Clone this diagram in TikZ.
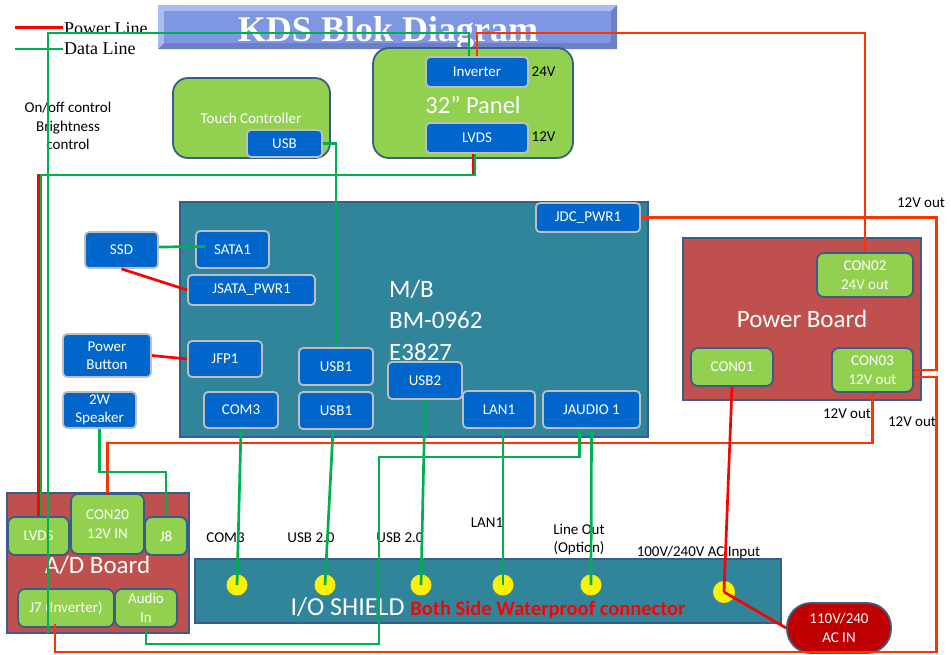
\documentclass[tikz,border=0pt]{standalone}
\usepackage{fontspec}
\setmainfont{Carlito}
\newfontfamily\tnr{Liberation Serif}
\definecolor{teal2}{RGB}{49,133,155}
\definecolor{bblue}{RGB}{0,102,204}
\definecolor{bgray}{RGB}{191,191,191}
\definecolor{lgreen}{RGB}{146,208,80}
\definecolor{rboard}{RGB}{192,80,77}
\definecolor{bdark}{RGB}{56,93,138}
\definecolor{acred}{RGB}{192,0,0}
\definecolor{dgreen}{RGB}{0,176,80}
\definecolor{pred}{RGB}{255,0,0}
\definecolor{pora}{RGB}{255,51,0}
\definecolor{ttl}{RGB}{127,150,226}
\definecolor{ttllight}{RGB}{172,187,239}
\definecolor{ttldark}{RGB}{108,128,198}
\newcommand\fsS{\fontsize{15}{18.5}\selectfont}
\newcommand\fsL{\fontsize{25}{31.5}\selectfont}
\tikzset{
 bbox/.style={draw=bgray, line width=1.8pt, fill=bblue, rounded corners=4pt, text=white, font=\fsS, inner sep=0pt, align=center},
 gbox/.style={draw=bdark, line width=1.8pt, fill=lgreen, rounded corners=7pt, text=white, font=\fsS, inner sep=0pt, align=center},
 board/.style={draw=bdark, line width=1.2pt, inner sep=0pt},
 data/.style={draw=dgreen, line width=2.7pt},
 pwr/.style={draw=pred, line width=2.7pt},
 pwro/.style={draw=pora, line width=2.7pt},
 ydot/.style={circle, fill=yellow, minimum size=21pt, inner sep=0pt},
 lbl/.style={font=\fsS, text=black, align=center, inner sep=0pt},
 big/.style={font=\fsL, text=white, inner sep=0pt},
}
\begin{document}
\begin{tikzpicture}[x=1pt,y=-1pt]
\useasboundingbox (0,0) rectangle (951,654);
% title
\fill[ttllight] (158,5) rectangle (617,49);
\fill[ttldark] (617,5) -- (617,49) -- (158,49) -- (164,43) -- (611,43) -- (611,11) -- cycle;
\fill[ttl] (164,11) rectangle (611,43);
\node[font=\tnr\bfseries\fontsize{36}{40}\selectfont, text=white, anchor=base, inner sep=0pt] (ttext) at (388,41) {KDS Blok Diagram};
% legend
\node[font=\tnr\fontsize{18}{20}\selectfont, anchor=base west, inner sep=0pt] (lpt) at (64,34) {Power Line};
\node[font=\tnr\fontsize{18}{20}\selectfont, anchor=base west, inner sep=0pt] (ldt) at (64,54) {Data Line};
\coordinate (lp1) at (15,27.5); \coordinate (lp2) at (63,27.5);
\coordinate (ld1) at (15,49); \coordinate (ld2) at (63,49);
\draw[pwr] (lp1) -- (lp2);
\draw[data] (ld1) -- (ld2);
\node[lbl] (onoff) at (68,126) {On/off control\\Brightness\\control};
% touch controller
\node[gbox, rounded corners=15pt, minimum width=157pt, minimum height=80pt] (touch) at (251.5,118) {};
\node[big, font=\fsS] (toucht) at (251,118) {Touch Controller};
\node[bbox, minimum width=75pt, minimum height=27pt] (usbt) at (284.5,143.5) {USB};
% panel
\node[gbox, rounded corners=16pt, minimum width=200pt, minimum height=110pt] (panel) at (473,103) {};
\node[bbox, minimum width=102pt, minimum height=30pt] (inv) at (477,72) {Inverter};
\node[bbox, minimum width=102pt, minimum height=30pt] (lvdsp) at (477,138) {LVDS};
\node[big, font=\fontsize{24.5}{28}\selectfont] (panelt) at (473,105) {32” Panel};
\node[lbl] (l24) at (543.5,72) {24V};
\node[lbl] (l12) at (543.5,137) {12V};
% main board
\node[board, fill=teal2, minimum width=468pt, minimum height=235pt] (mb) at (414,319.5) {};
\node[big, align=left, anchor=west] (mbt) at (389,320) {M/B\\BM-0962\\E3827};
\node[bbox, minimum width=104pt, minimum height=29pt] (jdc) at (588,217.5) {JDC\_PWR1};
\node[bbox, minimum width=73pt, minimum height=37pt] (sata) at (232.5,249.5) {SATA1};
\node[bbox, minimum width=127pt, minimum height=30pt] (jsata) at (251.5,290) {JSATA\_PWR1};
\node[bbox, minimum width=74pt, minimum height=36pt] (jfp) at (225,359) {JFP1};
\node[bbox, minimum width=74pt, minimum height=36pt] (com3) at (241,410) {COM3};
\node[bbox, minimum width=74pt, minimum height=37pt] (usb1a) at (336,366.5) {USB1};
\node[bbox, minimum width=74pt, minimum height=37pt] (usb1b) at (336,410.5) {USB1};
\node[bbox, minimum width=74pt, minimum height=37pt] (usb2) at (425,380.5) {USB2};
\node[bbox, minimum width=72pt, minimum height=37pt] (lan1) at (499,409.5) {LAN1};
\node[bbox, minimum width=97pt, minimum height=37pt] (jaud) at (591.5,409.5) {JAUDIO 1};
% left peripherals
\node[bbox, minimum width=73pt, minimum height=36pt] (ssd) at (121.5,250) {SSD};
\node[bbox, minimum width=88pt, minimum height=43pt] (pwrb) at (107,355.5) {Power\\Button};
\node[bbox, minimum width=73pt, minimum height=36pt] (spk) at (99.5,410) {2W\\Speaker};
% power board
\node[board, fill=rboard, minimum width=238pt, minimum height=162pt, big] (pb) at (802,319) {Power Board};
\node[gbox, minimum width=96pt, minimum height=44pt] (con02) at (865,275) {CON02\\24V out};
\node[gbox, minimum width=82pt, minimum height=38pt] (con01) at (732,367) {CON01};
\node[gbox, minimum width=81pt, minimum height=44pt] (con03) at (872.5,370) {CON03\\12V out};
\node[lbl] (o1) at (921,203) {12V out};
\node[lbl] (o2) at (847,414) {12V out};
\node[lbl] (o3) at (912,422) {12V out};
% A/D board
\node[board, fill=rboard, minimum width=182pt, minimum height=140pt] (adb) at (98,563) {};
\node[gbox, minimum width=61pt, minimum height=38pt] (adlvds) at (38.5,536) {LVDS};
\node[gbox, minimum width=73pt, minimum height=60pt] (con20) at (107.5,524) {CON20\\12V IN};
\node[gbox, minimum width=42pt, minimum height=38pt] (j8) at (166,536) {J8};
\node[big] (adbt) at (97.5,565) {A/D Board};
\node[gbox, minimum width=96pt, minimum height=38pt] (j7) at (66,608) {J7 (Inverter)};
\node[gbox, minimum width=62pt, minimum height=38pt] (audin) at (146,608) {Audio\\In};
% I/O shield
\node[board, fill=teal2, minimum width=586pt, minimum height=64pt] (io) at (488,591) {};
\node[anchor=base, inner sep=0pt, text=white] (iot) at (488,615) {\fontsize{26}{30}\selectfont I/O SHIELD {\color{red}\bfseries\fontsize{20.5}{24}\selectfont Both Side Waterproof connector}};
\node[ydot] (dcom) at (237,585) {};
\node[ydot] (du1) at (325,585) {};
\node[ydot] (du2) at (421,585) {};
\node[ydot] (dlan) at (503,585) {};
\node[ydot] (dlo) at (591,585) {};
\node[ydot, minimum size=22pt] (dac) at (724,592) {};
\node[lbl] (tcom) at (225.5,538) {COM3};
\node[lbl] (tu1) at (311,538) {USB 2.0};
\node[lbl] (tu2) at (400,538) {USB 2.0};
\node[lbl] (tlan) at (487,523) {LAN1};
\node[lbl] (tlo) at (579,539.5) {Line Out\\(Option)};
\node[lbl] (tac) at (698.5,552) {100V/240V AC Input};
\node[draw=bdark, line width=1.8pt, fill=acred, text=white, rounded corners=24pt, minimum width=104pt, minimum height=50pt, font=\fsS, align=center, inner sep=0pt] (acin) at (839,628) {110V/240\\AC IN};
% ---- connectors ----
\coordinate (gT) at (48,33);
\draw[data] ([xshift=-8pt]inv.north) |- (gT) -- (gT |- adb.south);
\coordinate (rT) at (865,33);
\draw[pwro] (inv.north) |- (rT) -- (con02.north);
\coordinate (rL) at (38.5,175);
\coordinate (gL) at (41,175);
\draw[pwr] ([xshift=-4pt]lvdsp.south) |- (rL) -- (rL |- adlvds.north);
\draw[data] ([xshift=-2pt]lvdsp.south) |- (gL) -- (gL |- adlvds.north);
\draw[data] (usbt.east) -| (usb1a.north);
\coordinate (rJ) at (936.5,217.5);
\draw[pwro] (jdc.east) -- (rJ) |- (con03.east);
\coordinate (rB) at (936.5,652);
\coordinate (rB2) at (55,652);
\draw[pwro] ([yshift=-7pt]con03.east) -| (rB) -- (rB2) -- ([yshift=4pt]rB2 |- j7.south);
\coordinate (rC) at (107.5,443);
\draw[pwro] (con03.south) |- (rC) -- (con20.north);
\draw[pwr] (con01.south) -- (dac.center);
\draw[pwr] (dac.center) -- (acin.west);
\coordinate (gA) at (379,457);
\coordinate (gA2) at (379,644);
\draw[data] ([xshift=-12pt]jaud.south) |- (gA) -- (gA2) -| (audin.south);
\draw[data] (jaud.south) -- (dlo.center);
\draw[data] (com3.south) -- (dcom.center);
\draw[data] ([xshift=-3pt]usb1b.south) -- (du1.center);
\draw[data] (usb2.south) -- (du2.center);
\draw[data] ([xshift=4pt]lan1.south) -- (dlan.center);
\coordinate (gS) at (166,472);
\draw[data] (spk.south) |- (gS) -- (j8.north);
\draw[data] ([yshift=3pt]ssd.east) -- ([xshift=10pt,yshift=3pt]sata.west);
\draw[pwr] (ssd.south) -- (jsata.west);
\draw[pwr] (pwrb.east) -- (jfp.west);
\end{tikzpicture}
\end{document}
